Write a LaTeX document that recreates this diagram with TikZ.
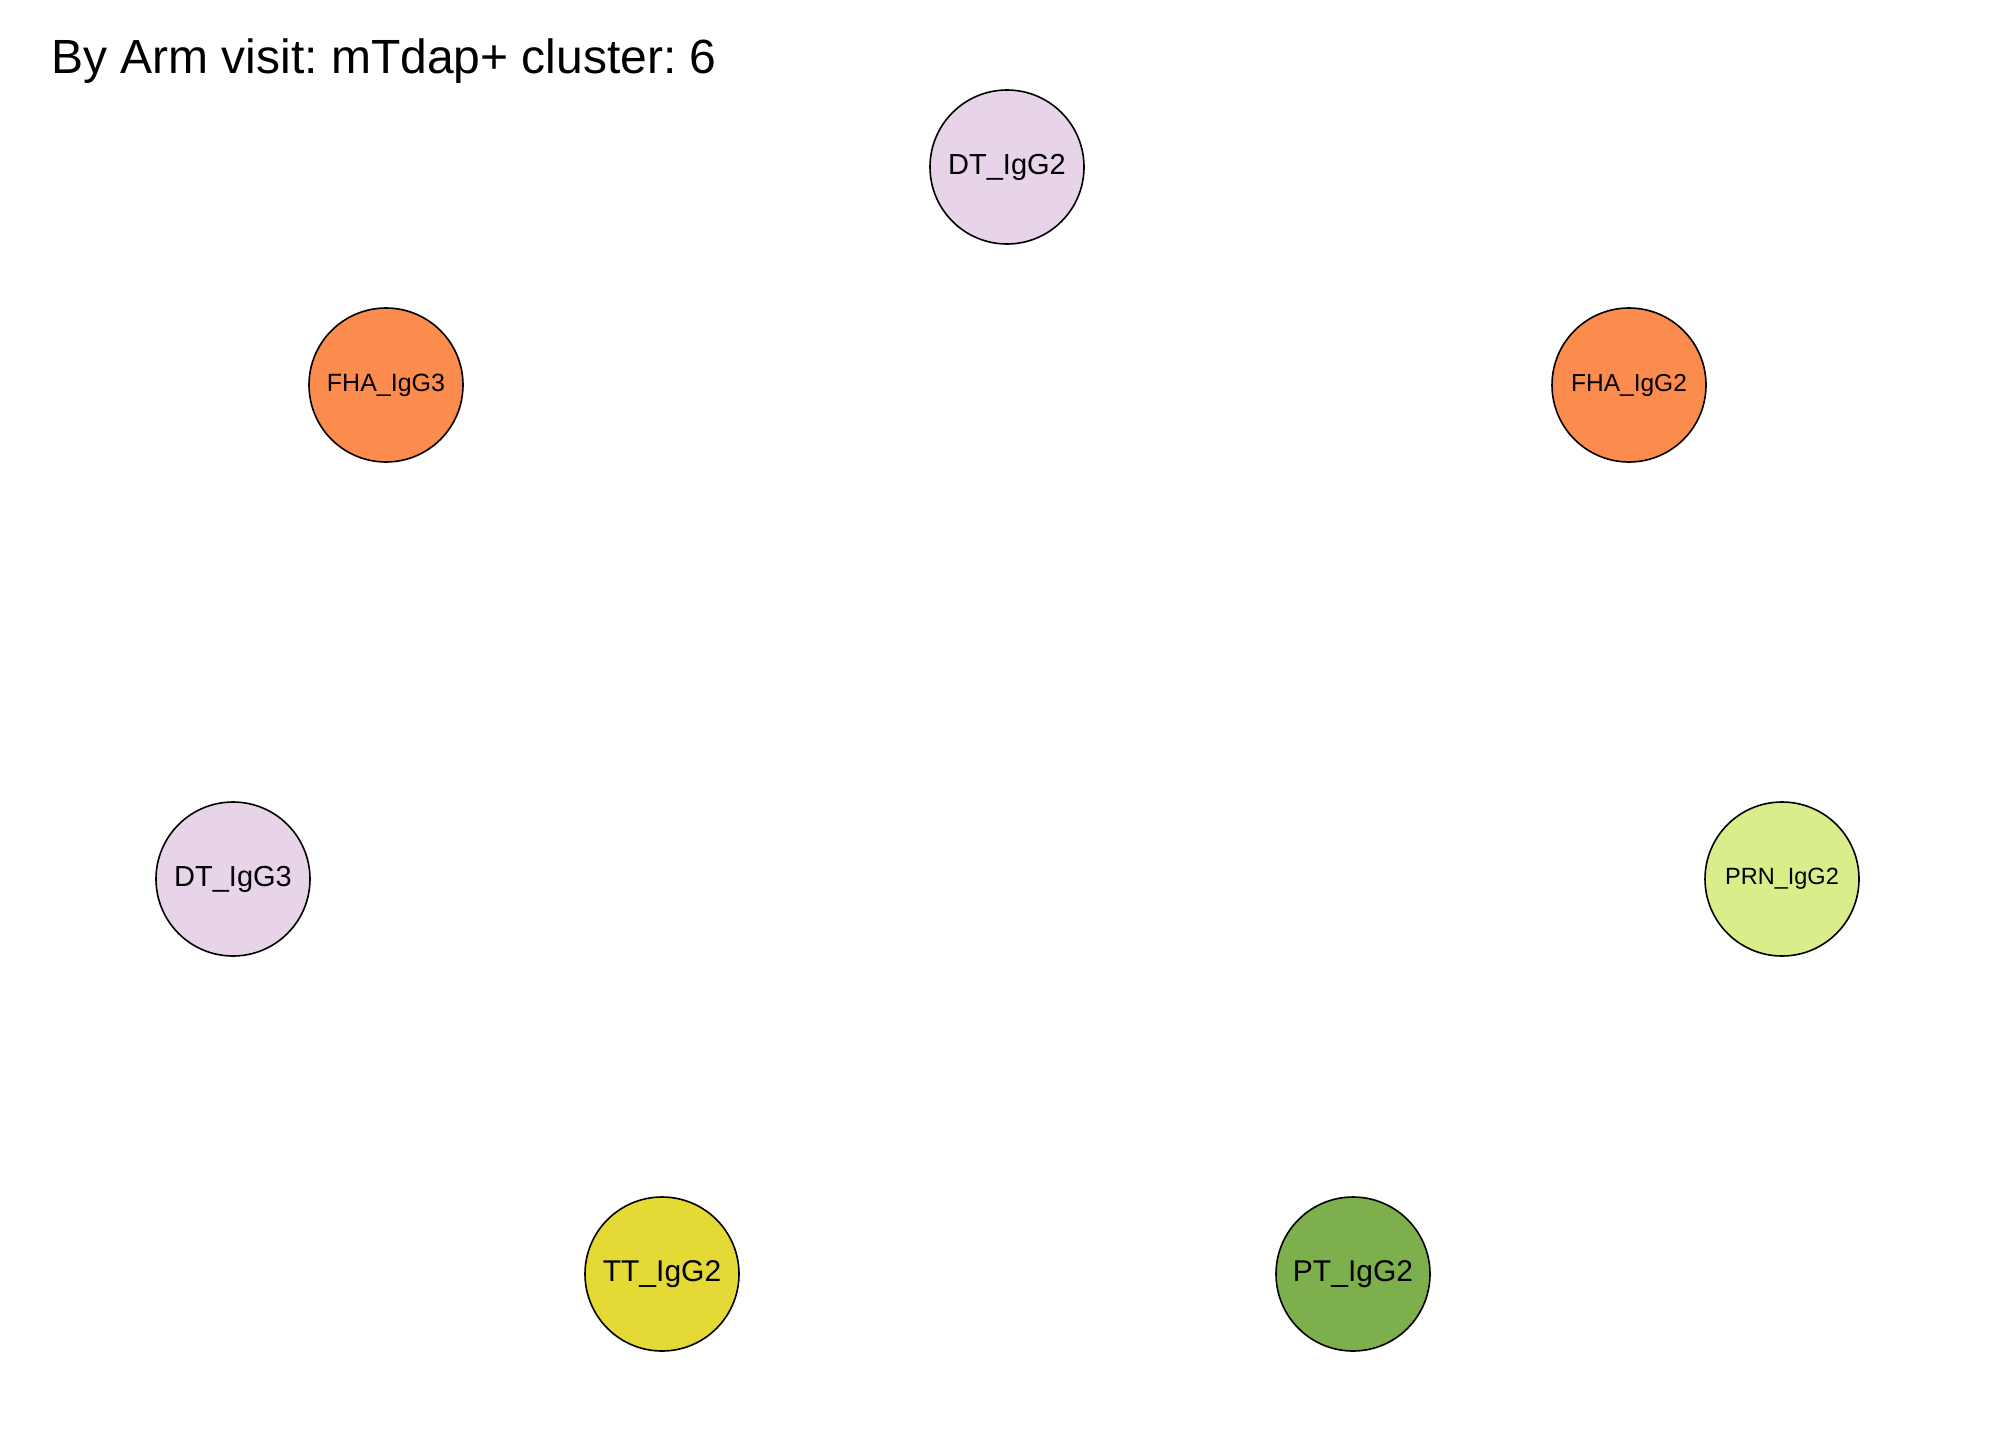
\documentclass[tikz,border=0pt]{standalone}
\usepackage{fontspec}
\setmainfont{Liberation Sans}
\definecolor{lav}{HTML}{E7D4E8}
\definecolor{orng}{HTML}{FB8C4E}
\definecolor{lgreen}{HTML}{D9EE8A}
\definecolor{yell}{HTML}{E5DA35}
\definecolor{dgreen}{HTML}{7DAF4D}
\newcommand{\fs}[1]{\fontsize{#1}{#1}\selectfont}
\frenchspacing
\begin{document}
\begin{tikzpicture}[x=1pt,y=-1pt,
  vnode/.style={circle,draw=black,line width=1.6pt,minimum size=154pt,inner sep=0pt,text=black}]
\useasboundingbox[fill=white] (0,0) rectangle (2016,1440);
\node[anchor=base west,inner sep=0pt] (title) at (51,73) {\frenchspacing\fs{48}By Arm visit: mTdap+ cluster: 6};
\node[vnode,fill=lav] (dt2) at (1007,167) {\fs{29}\raisebox{-2pt}{DT\_IgG2}};
\node[vnode,fill=orng] (fha3) at (386,385) {\fs{25}\raisebox{-2pt}{FHA\_IgG3}};
\node[vnode,fill=orng] (fha2) at (1629,385) {\fs{24.5}\raisebox{-2pt}{FHA\_IgG2}};
\node[vnode,fill=lav] (dt3) at (233,879) {\fs{29}\raisebox{-2pt}{DT\_IgG3}};
\node[vnode,fill=lgreen] (prn2) at (1782,879) {\fs{23.5}\raisebox{-2pt}{PRN\_IgG2}};
\node[vnode,fill=yell] (tt2) at (662,1274) {\fs{30}\raisebox{-2pt}{TT\_IgG2}};
\node[vnode,fill=dgreen] (pt2) at (1353,1274) {\fs{30}\raisebox{-2pt}{PT\_IgG2}};
\end{tikzpicture}
\end{document}
